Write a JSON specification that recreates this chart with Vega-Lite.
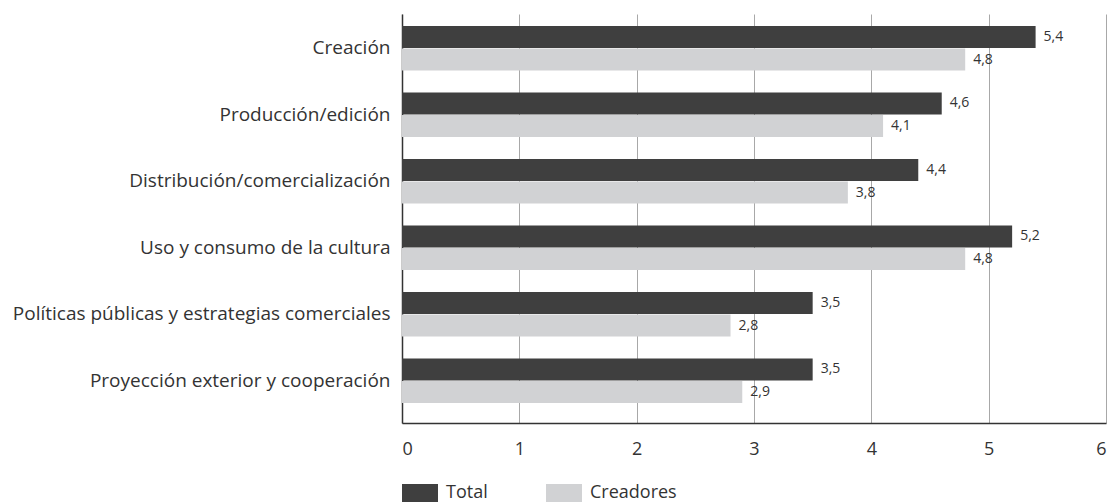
{
  "$schema": "https://vega.github.io/schema/vega-lite/v6.json",
  "autosize": {"type": "none"},
  "padding": {"left": 402, "top": 14, "right": 5, "bottom": 79},
  "width": 704,
  "height": 409,
  "data": {
    "values": [
      {"cat": "Creación", "serie": "Total", "valor": 5.4},
      {"cat": "Creación", "serie": "Creadores", "valor": 4.8},
      {"cat": "Producción/edición", "serie": "Total", "valor": 4.6},
      {"cat": "Producción/edición", "serie": "Creadores", "valor": 4.1},
      {"cat": "Distribución/comercialización", "serie": "Total", "valor": 4.4},
      {"cat": "Distribución/comercialización", "serie": "Creadores", "valor": 3.8},
      {"cat": "Uso y consumo de la cultura", "serie": "Total", "valor": 5.2},
      {"cat": "Uso y consumo de la cultura", "serie": "Creadores", "valor": 4.8},
      {"cat": "Políticas públicas y estrategias comerciales", "serie": "Total", "valor": 3.5},
      {"cat": "Políticas públicas y estrategias comerciales", "serie": "Creadores", "valor": 2.8},
      {"cat": "Proyección exterior y cooperación", "serie": "Total", "valor": 3.5},
      {"cat": "Proyección exterior y cooperación", "serie": "Creadores", "valor": 2.9}
    ]
  },
  "encoding": {
    "y": {
      "field": "cat", "type": "nominal", "sort": null, "title": null,
      "scale": {"paddingInner": 0.33, "paddingOuter": 0.24, "align": 0.375},
      "axis": {"domain": true, "domainColor": "#333333", "domainWidth": 1.5, "ticks": false, "labelPadding": 12, "labelFontSize": 19, "labelColor": "#333333", "labelLimit": 420, "grid": false}
    },
    "yOffset": {"field": "serie", "type": "nominal", "sort": ["Total", "Creadores"], "scale": {"paddingInner": 0.03}},
    "x": {
      "field": "valor", "type": "quantitative", "title": null,
      "scale": {"domain": [0, 6], "nice": false},
      "axis": {"values": [0, 1, 2, 3, 4, 5, 6], "format": "d", "domain": true, "domainColor": "#333333", "domainWidth": 1.5, "ticks": false, "labelPadding": 17, "labelFontSize": 18, "labelColor": "#333333", "grid": true, "gridColor": "#a8a8a8", "gridWidth": 1}
    }
  },
  "layer": [
    {
      "mark": {"type": "bar"},
      "encoding": {
        "color": {
          "field": "serie", "type": "nominal", "sort": ["Total", "Creadores"],
          "scale": {"domain": ["Total", "Creadores"], "range": ["#3f3f3f", "#d1d2d4"]},
          "legend": {
            "title": null, "orient": "none", "legendX": 0, "legendY": 461, "direction": "horizontal",
            "symbolType": "M-1,-0.5H1V0.5H-1Z", "symbolSize": 1296, "symbolStrokeWidth": 0,
            "labelFontSize": 18, "labelColor": "#333333", "labelOffset": 8, "columnPadding": 58
          }
        }
      }
    },
    {
      "mark": {"type": "text", "align": "left", "baseline": "middle", "dx": 8, "fontSize": 14, "color": "#333333"},
      "encoding": {
        "text": {"field": "valor", "type": "quantitative", "format": ".1f"}
      }
    }
  ],
  "config": {
    "font": "Open Sans",
    "view": {"stroke": null},
    "locale": {"number": {"decimal": ",", "thousands": ".", "grouping": [3], "currency": ["", " €"]}}
  }
}
